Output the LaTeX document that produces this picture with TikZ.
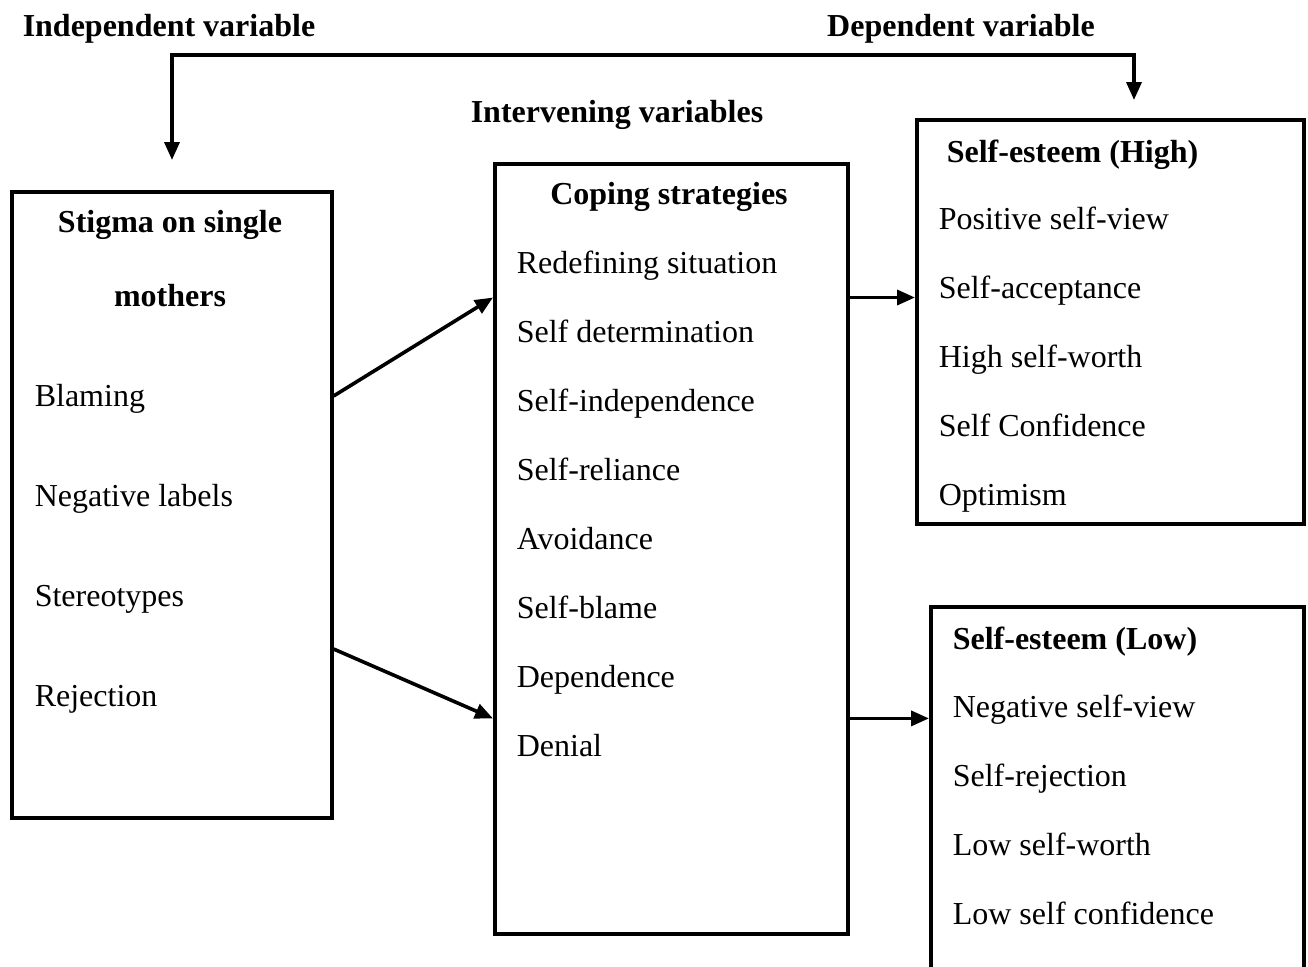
\documentclass[tikz,border=0pt]{standalone}
\usepackage{fontspec}
\setmainfont{Liberation Serif}
\usepackage{tikz}
\usetikzlibrary{arrows.meta,positioning,calc}

\begin{document}
\begin{tikzpicture}[x=0.5pt,y=-0.5pt,line width=1.8pt,
    >={Triangle[length=9pt,width=7.5pt]},
    box/.style={draw,line width=1.8pt,anchor=north west,inner sep=0pt},
    head/.style={font=\fontsize{16}{19}\selectfont\bfseries,inner sep=0pt,
      text height=13pt,text depth=2.5pt},
    item/.style={font=\fontsize{16}{19}\selectfont,inner sep=0pt,anchor=west,
      text height=13pt,text depth=2.5pt},
    node distance=34.5pt,on grid]
     \useasboundingbox (0,0) rectangle (1308,966);
     \clip (0,0) rectangle (1308,966);

     % variable headings
     \node[head] (indep) at (169,26) {Independent variable};
     \node[head] (dep)   at (961,26) {Dependent variable};
     \node[head] (interv) at (617,112) {Intervening variables};

     % boxes
     \node[box,minimum width=160pt,minimum height=313pt] (stigma) at (10,190) {};
     \node[box,minimum width=176.5pt,minimum height=385pt] (coping) at (493,162) {};
     \node[box,minimum width=193.5pt,minimum height=202pt] (high) at (915,118) {};
     \node[box,minimum width=186.5pt,minimum height=197.5pt] (low) at (929,605) {};

     % stigma box
     \node[head] (stigmahead) at (170,222) {Stigma on single};
     \node[head,below=37pt of stigmahead] (stigmahead2) {mothers};
     \node[item] (blame) at (33,396) {Blaming};
     \node[item,below=50pt of blame.west,anchor=west] (neglab) {Negative labels};
     \node[item,below=50pt of neglab.west,anchor=west] (stereo) {Stereotypes};
     \node[item,below=50pt of stereo.west,anchor=west] (reject) {Rejection};

     % coping box
     \node[head] (copinghead) at (669,194) {Coping strategies};
     \node[item] (redef) at (515,263) {Redefining situation};
     \node[item,below=of redef.west,anchor=west] (selfdet) {Self determination};
     \node[item,below=of selfdet.west,anchor=west] (selfind) {Self-independence};
     \node[item,below=of selfind.west,anchor=west] (selfrel) {Self-reliance};
     \node[item,below=of selfrel.west,anchor=west] (avoid) {Avoidance};
     \node[item,below=of avoid.west,anchor=west] (selfblame) {Self-blame};
     \node[item,below=of selfblame.west,anchor=west] (depend) {Dependence};
     \node[item,below=of depend.west,anchor=west] (denial) {Denial};

     % high self-esteem box
     \node[head,anchor=west] (highhead) at (945,152) {Self-esteem (High)};
     \node[item] (posview) at (937,219) {Positive self-view};
     \node[item,below=of posview.west,anchor=west] (accept) {Self-acceptance};
     \node[item,below=of accept.west,anchor=west] (highworth) {High self-worth};
     \node[item,below=of highworth.west,anchor=west] (confid) {Self Confidence};
     \node[item,below=of confid.west,anchor=west] (optim) {Optimism};

     % low self-esteem box
     \node[head,anchor=west] (lowhead) at (951,639) {Self-esteem (Low)};
     \node[item] (negview) at (951,707) {Negative self-view};
     \node[item,below=of negview.west,anchor=west] (selfrej) {Self-rejection};
     \node[item,below=of selfrej.west,anchor=west] (lowworth) {Low self-worth};
     \node[item,below=of lowworth.west,anchor=west] (lowconf) {Low self confidence};

     % connectors
     \coordinate (topl) at (172,55);
     \coordinate (topr) at (1134,55);
     \coordinate (indtip) at (172,160);
     \coordinate (deptip) at (1134,100);
     \draw[<->] (indtip) -- (topl) -- (topr) -- (deptip);

     \coordinate (upmid) at ($(redef.west)!0.5!(selfdet.west)$);
     \coordinate (lowmid) at ($(depend.west)!0.6!(denial.west)$);
     \coordinate (stigmid) at ($(stereo.west)!0.53!(reject.west)$);
     \draw[->] (stigma.east |- blame) -- (coping.west |- upmid);
     \draw[->] (stigma.east |- stigmid) -- (coping.west |- lowmid);
     \draw[->] (coping.east |- upmid) -- (high.west |- upmid);
     \draw[->] (coping.east |- lowmid) -- (low.west |- lowmid);
    \end{tikzpicture}
\end{document}
